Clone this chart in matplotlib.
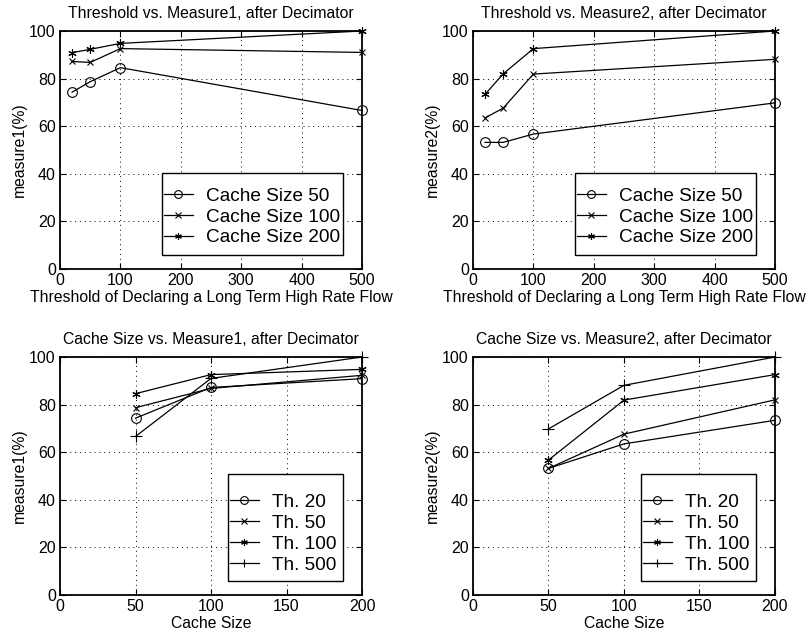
import matplotlib.pyplot as plt
from matplotlib.patches import Rectangle

plt.rcParams["font.family"] = ["Liberation Sans", "DejaVu Sans"]

thresholds = [20, 50, 100, 500]
cache_sizes = [50, 100, 200]

# measure1 (%) per cache size, over thresholds
m1_cache50 = [74.3, 78.7, 84.6, 66.6]
m1_cache100 = [87.2, 86.8, 92.6, 91.0]
m1_cache200 = [90.9, 92.3, 94.8, 100.0]

# measure2 (%) per cache size, over thresholds
m2_cache50 = [53.2, 53.2, 56.7, 69.8]
m2_cache100 = [63.5, 67.6, 81.9, 88.1]
m2_cache200 = [73.4, 82.0, 92.6, 100.0]

cache_labels = ["Cache Size 50", "Cache Size 100", "Cache Size 200"]
th_labels = ["Th. 20", "Th. 50", "Th. 100", "Th. 500"]

ASTERISK = (6, 2, 0)
cache_markers = ["o", "x", ASTERISK]
th_markers = ["o", "x", ASTERISK, "+"]


def msize(m):
    return {"o": 7, "x": 5, "+": 8}.get(m, 6) if isinstance(m, str) else 6


def style_axes(ax, xmax, xstep, xlabel, ylabel, title):
    ax.set_xlim(0, xmax)
    ax.set_ylim(0, 100)
    ax.set_xticks(range(0, xmax + 1, xstep))
    ax.set_yticks(range(0, 101, 20))
    ax.grid(True, color="black", linestyle=(0, (1, 4)), linewidth=0.7)
    ax.tick_params(direction="in", top=True, right=True, length=4, labelsize=11.5, pad=3)
    for s in ax.spines.values():
        s.set_linewidth(1.3)
    ax.set_xlabel(xlabel, fontsize=11.3, labelpad=1)
    ax.set_ylabel(ylabel, fontsize=11.3, labelpad=2)
    ax.set_title(title, fontsize=11.3, pad=9)


def draw(ax, x, series, markers, labels, box, shift):
    for y, m, lab in zip(series, markers, labels):
        ax.plot(x, y, color="black", linewidth=0.9, marker=m, markersize=msize(m),
                markerfacecolor="none", markeredgecolor="black", markeredgewidth=0.8,
                label=lab, clip_on=False)
    # MATLAB-style legend: frame drawn separately, tight on the right
    x0, y0, x1, y1 = box
    ax.add_patch(Rectangle((x0, y0), x1 - x0, y1 - y0, transform=ax.transAxes,
                           facecolor="white", edgecolor="black", linewidth=1.0,
                           zorder=4, clip_on=False))
    leg = ax.legend(loc="center left", bbox_to_anchor=(x0, (y0 + y1) / 2 - shift), fontsize=13.7,
                    frameon=False, handlelength=1.5, handletextpad=0.7, borderpad=0.1,
                    labelspacing=0.19, borderaxespad=0.0, markerscale=0.8)
    leg.set_zorder(5)


fig = plt.figure(figsize=(8.09, 6.36), dpi=100)
W, H = 809, 636


def px_axes(left, top, right, bottom):
    return fig.add_axes([left / W, 1 - bottom / H, (right - left) / W, (bottom - top) / H])


ax1 = px_axes(60, 31, 362, 269)
ax2 = px_axes(473, 31, 775, 269)
ax3 = px_axes(60, 357, 362, 595)
ax4 = px_axes(473, 357, 775, 595)

xl_th = "Threshold of Declaring a Long Term High Rate Flow"
top_box = (0.338, 0.059, 0.936, 0.403)
bot_box = (0.557, 0.059, 0.938, 0.508)

draw(ax1, thresholds, [m1_cache50, m1_cache100, m1_cache200], cache_markers, cache_labels, top_box, 0.012)
style_axes(ax1, 500, 100, xl_th, "measure1(%)", "Threshold vs. Measure1, after Decimator")

draw(ax2, thresholds, [m2_cache50, m2_cache100, m2_cache200], cache_markers, cache_labels, top_box, 0.012)
style_axes(ax2, 500, 100, xl_th, "measure2(%)", "Threshold vs. Measure2, after Decimator")

# per-threshold series over cache sizes
m1_by_th = [[s[i] for s in (m1_cache50, m1_cache100, m1_cache200)] for i in range(len(thresholds))]
m2_by_th = [[s[i] for s in (m2_cache50, m2_cache100, m2_cache200)] for i in range(len(thresholds))]

draw(ax3, cache_sizes, m1_by_th, th_markers, th_labels, bot_box, 0.025)
style_axes(ax3, 200, 50, "Cache Size", "measure1(%)", "Cache Size vs. Measure1, after Decimator")

draw(ax4, cache_sizes, m2_by_th, th_markers, th_labels, bot_box, 0.025)
style_axes(ax4, 200, 50, "Cache Size", "measure2(%)", "Cache Size vs. Measure2, after Decimator")

fig.savefig("out.png", dpi=100)
